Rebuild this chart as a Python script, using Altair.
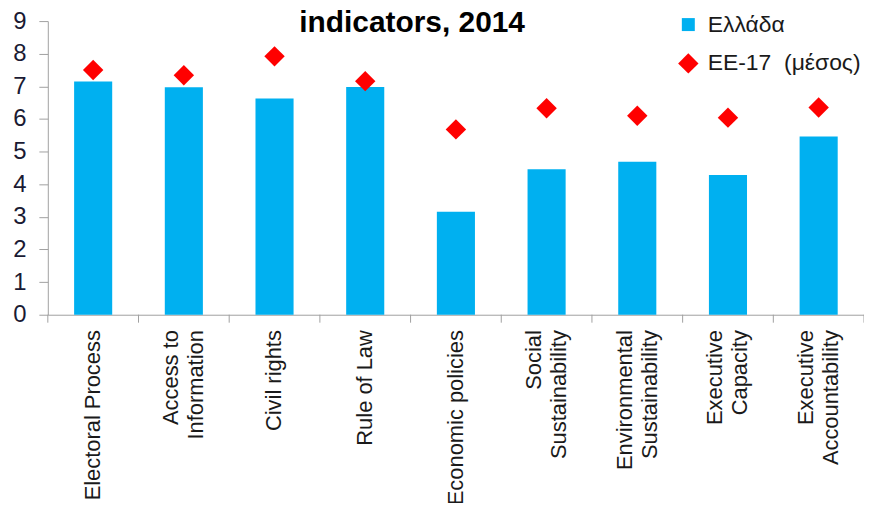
import altair as alt
import pandas as pd

categories = [
    "Electoral Process", "Access to\nInformation", "Civil rights", "Rule of Law",
    "Economic policies", "Social\nSustainability", "Environmental\nSustainability",
    "Executive\nCapacity", "Executive\nAccountability",
]
greece = [7.15, 6.97, 6.63, 6.98, 3.16, 4.46, 4.69, 4.28, 5.46]
eu17 = [7.50, 7.34, 7.92, 7.16, 5.68, 6.33, 6.10, 6.04, 6.35]
series_names = ["Ελλάδα", "ΕΕ-17\u00a0\u00a0(μέσος)"]
y_ticks = list(range(0, 10))

rows = []
for c, g, e in zip(categories, greece, eu17):
    rows.append({"cat": c, "series": series_names[0], "value": g})
    rows.append({"cat": c, "series": series_names[1], "value": e})
df = pd.DataFrame(rows)

FONT = "Liberation Sans"
xscale = alt.Scale(domain=categories, paddingInner=0, paddingOuter=0)
yscale = alt.Scale(domain=[0, 9], nice=False)
cscale = alt.Scale(domain=series_names, range=["#00B0F0", "#FF0000"])
sscale = alt.Scale(domain=series_names, range=["square", "diamond"])
zscale = alt.Scale(domain=series_names, range=[170, 420])

xaxis = alt.Axis(
    title=None, labelAngle=-90, ticks=False, domain=True, domainColor="#A0A0A0",
    labelFont=FONT, labelFontSize=22, labelColor="#1a1a1a", labelPadding=15,
    labelExpr="split(datum.value, '\\n')", labelLineHeight=25, labelLimit=400,
    labelBaseline="middle",
    labelOffset={"condition": {"test": "indexof(datum.value, '\\n') >= 0", "value": -12.5}, "value": 0},
)
yaxis = alt.Axis(
    title=None, values=y_ticks, tickCount=10, grid=False, domainColor="#A0A0A0",
    tickColor="#A0A0A0", tickSize=9, labelFont=FONT, labelFontSize=24,
    labelColor="#1a1a33", labelPadding=13, labelOverlap=False,
)

legend_def = alt.Legend(
    title=None, orient="none", legendX=632, legendY=-8,
    labelFont=FONT, labelFontSize=23, labelColor="#1a1a1a", labelLimit=400,
    symbolStrokeWidth=0, rowPadding=15, labelOffset=8,
)

base = alt.Chart(df)

bars = base.transform_filter(alt.datum.series == series_names[0]).mark_bar(
    width=alt.RelativeBandSize(0.42)
).encode(
    x=alt.X("cat:N", scale=xscale, axis=xaxis, sort=categories),
    y=alt.Y("value:Q", scale=yscale, axis=yaxis),
    color=alt.Color("series:N", scale=cscale, legend=legend_def),
)

points = base.transform_filter(alt.datum.series == series_names[1]).mark_point(
    filled=True, opacity=1
).encode(
    x=alt.X("cat:N", scale=xscale, axis=xaxis, sort=categories),
    y=alt.Y("value:Q", scale=yscale, axis=yaxis),
    color=alt.Color("series:N", scale=cscale, legend=legend_def),
    shape=alt.Shape("series:N", scale=sscale, legend=legend_def),
    size=alt.Size("series:N", scale=zscale, legend=legend_def),
)

ticks_df = pd.DataFrame({"cat": categories})
xticks = alt.Chart(ticks_df).mark_rule(color="#A0A0A0").encode(
    x=alt.X("cat:N", scale=xscale, sort=categories, bandPosition=0, axis=xaxis),
    y=alt.value(295), y2=alt.value(303),
)
last_tick = alt.Chart(ticks_df.head(1)).mark_rule(color="#A0A0A0").encode(
    x=alt.value(820), y=alt.value(295), y2=alt.value(303),
)

chart = alt.layer(bars, points, xticks, last_tick).properties(
    width=820, height=295,
    autosize=alt.AutoSizeParams(type="none"),
    padding={"left": 40, "top": 12, "right": 0, "bottom": 188},
    title=alt.TitleParams(
        "indicators, 2014", font=FONT, fontSize=30, fontWeight="bold", color="#000000",
        anchor="middle", frame="group", dx=-44, offset=0, baseline="top", dy=29,
    ),
).configure_view(stroke=None)

chart.save("out.html", embed_options={"renderer": "svg", "actions": False})
